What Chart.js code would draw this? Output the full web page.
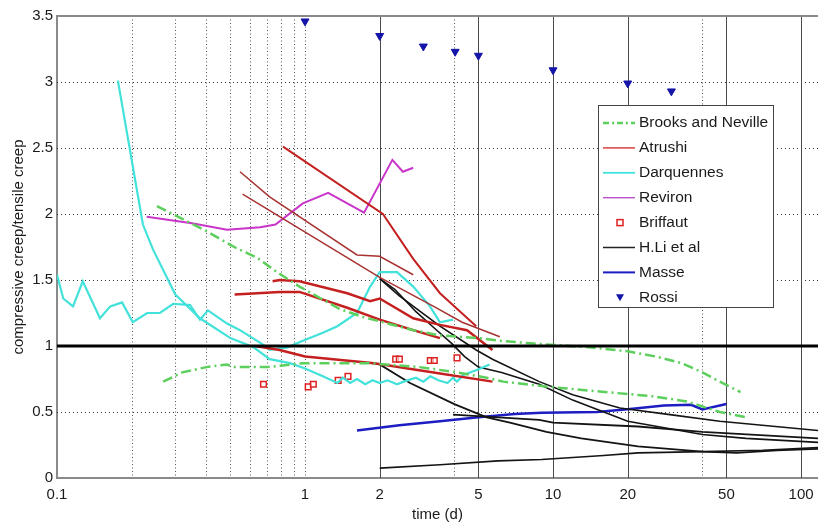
<!DOCTYPE html>
<html>
<head>
<meta charset="utf-8">
<script src="https://cdn.jsdelivr.net/npm/chart.js@4.4.1/dist/chart.umd.min.js"></script>
<style>
    html, body { margin: 0; padding: 0; background: #fff; }
    #wrap { width: 818px; height: 524px; }
</style>
</head>
<body>
<div id="wrap"><canvas id="grafico" width="818" height="524"></canvas></div>
<script>
// ejes
const xTicks = [0.1, 1, 2, 5, 10, 20, 50, 100];
const yTicks = [0, 0.5, 1, 1.5, 2, 2.5, 3, 3.5];
const xMin = 0.1, xMax = 117;
const dottedX = [0.2, 0.3, 0.4, 0.5, 0.6, 0.7, 0.8, 0.9, 1, 4, 40];
const solidX = [2, 5, 10, 20, 50, 100];
const dottedY = [0.5, 1.5, 2, 2.5, 3];
const refLevel = 1;

// series, pares [tiempo (d), fluencia comp./tracc.]
const brooksUpper = [[0.253,2.06],[0.40,1.87],[0.53,1.74],[0.64,1.67],[0.77,1.56],[0.95,1.45],[1.38,1.28],[1.71,1.22],[2.73,1.12],[3.5,1.08],[5.0,1.06],[6.1,1.04],[8.1,1.02],[14,0.99],[20,0.96],[26,0.92],[33,0.87],[40,0.80],[47,0.73],[57,0.65]];
const brooksLower = [[0.268,0.73],[0.32,0.80],[0.40,0.84],[0.485,0.86],[0.51,0.84],[0.70,0.84],[0.89,0.86],[0.98,0.87],[1.83,0.87],[2.9,0.84],[4.1,0.80],[5.4,0.76],[6.3,0.73],[9.7,0.69],[16.5,0.65],[25,0.62],[34.6,0.58],[47,0.50],[60,0.46]];

const atrushi1 = [[0.815,2.51],[2.06,2.0],[2.73,1.66],[3.5,1.40],[4.9,1.15]];
const atrushi2 = [[0.547,2.32],[0.72,2.13],[1.62,1.69],[2.0,1.68],[2.73,1.54]];
const atrushi3 = [[0.56,2.15],[2.0,1.52],[3.3,1.30],[4.3,1.18],[6.1,1.07]];
const atrushi4 = [[0.74,1.49],[0.79,1.50],[0.95,1.49],[1.48,1.40],[1.83,1.34],[2.0,1.36],[2.73,1.21],[3.5,1.16],[4.5,1.12],[5.7,0.97]];
const atrushi5 = [[0.52,1.39],[0.79,1.41],[0.95,1.41],[1.48,1.29],[2.0,1.20],[2.73,1.12],[3.5,1.06]];
const atrushi6 = [[0.63,1.0],[0.79,0.97],[1.0,0.92],[1.9,0.87],[3.3,0.80],[5.7,0.73]];

const darquennes1 = [[0.176,3.01],[0.222,1.92],[0.244,1.73],[0.30,1.39],[0.377,1.21],[0.50,1.06],[0.62,0.99],[0.72,0.90],[0.87,0.87],[1.0,0.83],[1.18,0.77],[1.35,0.72],[1.42,0.76],[1.52,0.72],[1.62,0.75],[1.75,0.71],[1.87,0.74],[2.0,0.72],[2.15,0.74],[2.35,0.71],[2.5,0.73],[2.8,0.76],[3.0,0.73],[3.2,0.77],[3.45,0.74],[3.75,0.72],[3.95,0.76],[4.1,0.73],[4.35,0.78],[4.95,0.82],[5.55,0.86]];
const darquennes2 = [[0.1,1.54],[0.106,1.36],[0.116,1.30],[0.127,1.49],[0.149,1.21],[0.164,1.30],[0.183,1.33],[0.202,1.18],[0.231,1.25],[0.26,1.25],[0.294,1.32],[0.344,1.31],[0.377,1.20],[0.406,1.27],[0.485,1.17],[0.547,1.12],[0.677,1.01],[0.72,0.97],[0.85,0.99],[0.98,1.04],[1.18,1.10],[1.35,1.15],[1.62,1.25],[1.83,1.45],[2.0,1.56],[2.35,1.56],[2.73,1.45],[3.19,1.30],[3.5,1.18],[3.95,1.20]];

const reviron = [[0.23,1.98],[0.35,1.93],[0.485,1.88],[0.66,1.90],[0.76,1.92],[0.98,2.08],[1.24,2.16],[1.73,2.01],[2.25,2.41],[2.48,2.32],[2.73,2.35]];

const briffaut = [[0.68,0.71],[1.03,0.69],[1.08,0.71],[1.36,0.74],[1.49,0.77],[2.32,0.90],[2.40,0.90],[3.2,0.89],[3.32,0.89],[4.1,0.91]];

const hli1 = [[2,1.51],[2.4,1.38],[3.5,1.15],[4.9,0.97],[5.7,0.90],[8.8,0.73],[12,0.63],[18.6,0.53],[29.6,0.48],[47,0.43],[117,0.36]];
const hli2 = [[2,1.51],[2.3,1.43],[2.8,1.26],[3.3,1.14],[3.9,1.02],[4.4,0.92],[5.0,0.84],[6.2,0.80],[8.8,0.71],[12,0.59],[20,0.43],[40,0.33],[60,0.30],[117,0.27]];
const hli3 = [[1.85,0.87],[2.0,0.86],[2.65,0.72],[4.0,0.56],[5.4,0.46],[6.7,0.42],[9.4,0.35],[13,0.30],[22,0.24],[40,0.20],[55,0.19],[80,0.21],[117,0.22]];
const hli4 = [[3.95,0.48],[8.8,0.44],[10,0.42],[22,0.39],[40,0.35],[117,0.30]];
const hli5 = [[2,0.075],[3.5,0.10],[6,0.13],[9,0.14],[16,0.17],[22,0.19],[40,0.20],[70,0.21],[117,0.23]];

const masse = [[1.62,0.36],[2.4,0.40],[3.5,0.43],[5,0.46],[7,0.485],[9,0.495],[15,0.50],[20,0.52],[28,0.55],[36,0.555],[40,0.52],[50,0.56]];

const rossi = [[1.0,3.46],[2.0,3.35],[3.0,3.27],[4.03,3.23],[5.0,3.20],[10,3.09],[20,2.99],[30,2.93]];

const legendNames = ["Brooks and Neville", "Atrushi", "Darquennes", "Reviron", "Briffaut", "H.Li et al", "Masse", "Rossi"];

const FONT = "'Liberation Sans', Arial, Helvetica, sans-serif";
Chart.defaults.font.family = FONT;
Chart.defaults.font.size = 15;
Chart.defaults.color = '#1a1a1a';

function pts(arr){
    return arr.map(p => ({x: p[0], y: p[1]}));
}

function linea(data, color, width, dash){
    return {
        data: pts(data),
        borderColor: color,
        borderWidth: width,
        borderDash: dash || [],
        pointRadius: 0,
        fill: false,
        tension: 0
    };
}

const verde = '#5ccf5c';
const rojo = '#c42020';
const rojoOsc = '#a83232';
const cian = '#42e2da';
const magenta = '#c935c9';
const azul = '#1d1dc2';

let datasets = [
    linea([[xMin, refLevel], [xMax, refLevel]], '#000', 3),
    linea(brooksUpper, verde, 2.5, [10, 4, 2, 4]),
    linea(brooksLower, verde, 2.5, [10, 4, 2, 4]),
    linea(atrushi1, rojo, 2),
    linea(atrushi2, rojoOsc, 1.5),
    linea(atrushi3, rojoOsc, 1.5),
    linea(atrushi4, rojo, 2.5),
    linea(atrushi5, rojo, 2.5),
    linea(atrushi6, rojo, 2.5),
    linea(darquennes1, cian, 2.2),
    linea(darquennes2, cian, 2.2),
    linea(reviron, magenta, 2),
    linea(hli1, '#141414', 1.6),
    linea(hli2, '#141414', 1.6),
    linea(hli3, '#141414', 1.8),
    linea(hli4, '#141414', 1.8),
    linea(hli5, '#141414', 1.6),
    linea(masse, azul, 2.5),
    {
        data: pts(briffaut), showLine: false,
        pointStyle: 'rect', pointRadius: 4, borderWidth: 1.5,
        borderColor: '#dd2222', backgroundColor: 'rgba(255,255,255,0.6)'
    },
    {
        data: pts(rossi), showLine: false,
        pointStyle: 'triangle', pointRotation: 180, pointRadius: 4.6, borderWidth: 1,
        borderColor: '#1414a8', backgroundColor: '#1414a8'
    }
];

// rejilla estilo matlab
const rejilla = {
    id: 'rejilla',
    beforeDatasetsDraw(chart){
        const {ctx, chartArea: a, scales: {x, y}} = chart;
        ctx.save();
        ctx.beginPath();
        ctx.rect(a.left, a.top, a.right - a.left, a.bottom - a.top);
        ctx.clip();
        ctx.lineWidth = 1;

        ctx.setLineDash([1, 2.5]);
        ctx.strokeStyle = '#555';
        dottedX.forEach(v => {
            const px = Math.round(x.getPixelForValue(v)) + 0.5;
            ctx.beginPath(); ctx.moveTo(px, a.top); ctx.lineTo(px, a.bottom); ctx.stroke();
        });
        ctx.strokeStyle = '#333';
        ctx.setLineDash([1, 3]);
        dottedY.forEach(v => {
            const py = Math.round(y.getPixelForValue(v)) + 0.5;
            ctx.beginPath(); ctx.moveTo(a.left, py); ctx.lineTo(a.right, py); ctx.stroke();
        });

        ctx.setLineDash([]);
        ctx.strokeStyle = '#4a4a4a';
        solidX.forEach(v => {
            const px = Math.round(x.getPixelForValue(v)) + 0.5;
            ctx.beginPath(); ctx.moveTo(px, a.top); ctx.lineTo(px, a.bottom); ctx.stroke();
        });
        ctx.restore();

        // borde superior
        ctx.save();
        ctx.strokeStyle = '#8a8a8a';
        ctx.lineWidth = 2;
        ctx.beginPath(); ctx.moveTo(a.left, a.top); ctx.lineTo(a.right, a.top); ctx.stroke();
        ctx.restore();
    }
};

// leyenda dentro del area
const leyenda = {
    id: 'leyenda',
    afterDraw(chart){
        const ctx = chart.ctx;
        const bx = 598, by = 105.5, bw = 175, bh = 202;
        const row0 = by + 17.5, step = 24.9;
        ctx.save();
        ctx.fillStyle = '#fff';
        ctx.fillRect(bx, by, bw, bh);
        ctx.strokeStyle = '#444';
        ctx.lineWidth = 1;
        ctx.strokeRect(bx + 0.5, by, bw, bh);

        const estilos = [
            {tipo: 'line', color: verde, w: 2.5, dash: [6, 3, 2, 3]},
            {tipo: 'line', color: '#d84040', w: 1.5},
            {tipo: 'line', color: cian, w: 1.8},
            {tipo: 'line', color: '#b646c6', w: 1.3},
            {tipo: 'rect', color: '#dd2222'},
            {tipo: 'line', color: '#222', w: 1.5},
            {tipo: 'line', color: azul, w: 2},
            {tipo: 'tri', color: '#1414a8'}
        ];
        ctx.font = '15.5px ' + FONT;
        ctx.textBaseline = 'middle';
        ctx.textAlign = 'left';
        legendNames.forEach((name, i) => {
            const yy = row0 + i * step;
            const e = estilos[i];
            if (e.tipo === 'line'){
                ctx.strokeStyle = e.color;
                ctx.lineWidth = e.w;
                ctx.setLineDash(e.dash || []);
                ctx.beginPath(); ctx.moveTo(603, yy); ctx.lineTo(635, yy); ctx.stroke();
                ctx.setLineDash([]);
            } else if (e.tipo === 'rect'){
                ctx.strokeStyle = e.color;
                ctx.lineWidth = 1.5;
                ctx.strokeRect(617, yy - 3, 6, 6);
            } else {
                ctx.fillStyle = e.color;
                ctx.beginPath();
                ctx.moveTo(616, yy - 3); ctx.lineTo(624, yy - 3); ctx.lineTo(620, yy + 4);
                ctx.closePath(); ctx.fill();
            }
            ctx.fillStyle = '#1a1a1a';
            ctx.fillText(name, 639, yy);
        });
        ctx.restore();
    }
};

new Chart(document.getElementById('grafico'), {
    type: 'line',
    data: { datasets: datasets },
    plugins: [rejilla, leyenda],
    options: {
        responsive: false,
        animation: false,
        devicePixelRatio: 1,
        layout: { autoPadding: false, padding: { top: 16, right: 0, left: 0, bottom: 0 } },
        plugins: {
            legend: { display: false },
            tooltip: { enabled: false }
        },
        scales: {
            x: {
                type: 'logarithmic',
                min: xMin,
                max: xMax,
                afterBuildTicks: s => { s.ticks = xTicks.map(v => ({value: v})); },
                afterFit: s => { s.height = 46; s.paddingLeft = 0; s.paddingRight = 0; },
                ticks: {
                    autoSkip: false,
                    maxRotation: 0,
                    padding: 8,
                    color: '#1a1a1a',
                    callback: (v) => String(v)
                },
                grid: { display: false, drawTicks: false },
                border: { display: true, color: '#8a8a8a', width: 2 },
                title: { display: true, text: 'time (d)', padding: { top: 0, bottom: 0 }, color: '#1a1a1a' }
            },
            y: {
                type: 'linear',
                min: 0,
                max: 3.5,
                afterBuildTicks: s => { s.ticks = yTicks.map(v => ({value: v})); },
                afterFit: s => { s.width = 57; s.paddingTop = 0; s.paddingBottom = 0; },
                ticks: {
                    padding: 4,
                    color: '#1a1a1a',
                    callback: (v) => String(v)
                },
                grid: { display: false, drawTicks: false },
                border: { display: true, color: '#8a8a8a', width: 2 },
                title: { display: true, text: 'compressive creep/tensile creep', padding: { top: 10, bottom: 0 }, color: '#1a1a1a' }
            }
        }
    }
});
</script>
</body>
</html>
